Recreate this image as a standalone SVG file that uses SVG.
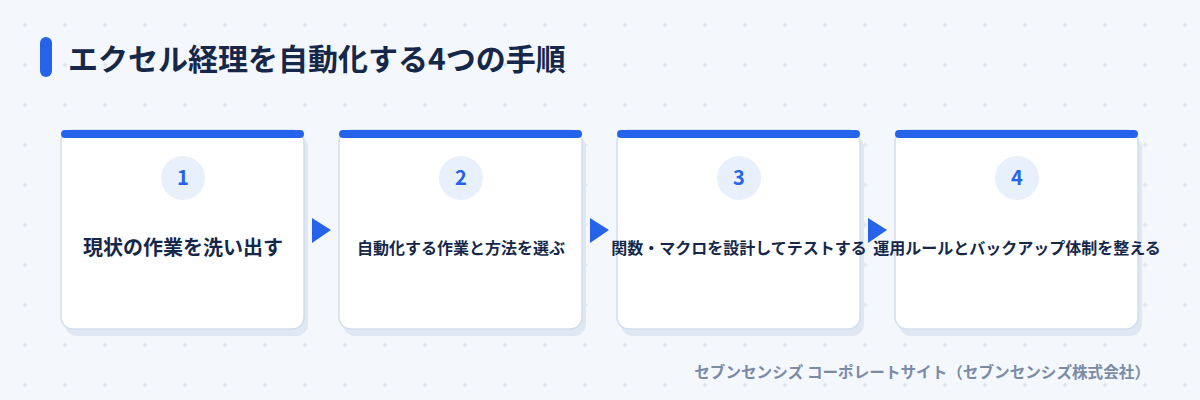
<svg xmlns="http://www.w3.org/2000/svg" width="1200" height="400" viewBox="0 0 1200 400">
<defs>
<pattern id="grid" x="0" y="0" width="40" height="40" patternUnits="userSpaceOnUse">
<path d="M22.5 25 H27.5 M25 22.5 V27.5" stroke="#d6dfeb" stroke-width="1"/>
</pattern>
<style>
.t{font-family:"Noto Sans CJK JP","Noto Sans",sans-serif;font-weight:700;}
.card{fill:#ffffff;stroke:#d3deec;stroke-width:1.5;}
.shadow{fill:#dfe7f3;}
.bar{fill:#2563eb;}
.circ{fill:#e8f0fc;}
.num{fill:#2563eb;font-size:20px;text-anchor:middle;}
.lbl{fill:#15284a;text-anchor:middle;}
.arrow{fill:#2563eb;}
</style>
</defs>
<rect width="1200" height="400" fill="#f4f7fc"/>
<rect width="1200" height="400" fill="url(#grid)"/>
<rect x="40" y="37" width="12" height="40" rx="6" fill="#2563eb"/>
<text class="t" x="68" y="70" font-size="30" fill="#15284a">エクセル経理を自動化する4つの手順</text>

<g id="node1">
<rect class="shadow" x="65" y="136" width="243" height="200" rx="12"/>
<rect class="card" x="61" y="130" width="243" height="199" rx="12"/>
<rect class="bar" x="61" y="130" width="243" height="8" rx="4"/>
<circle class="circ" cx="183" cy="178" r="22"/>
<text class="t num" x="183" y="185">1</text>
<text class="t lbl" x="183" y="255" font-size="20">現状の作業を洗い出す</text>
</g>
<g id="node2">
<rect class="shadow" x="343" y="136" width="243" height="200" rx="12"/>
<rect class="card" x="339" y="130" width="243" height="199" rx="12"/>
<rect class="bar" x="339" y="130" width="243" height="8" rx="4"/>
<circle class="circ" cx="461" cy="178" r="22"/>
<text class="t num" x="461" y="185">2</text>
<text class="t lbl" x="461" y="254" font-size="16">自動化する作業と方法を選ぶ</text>
</g>
<g id="node3">
<rect class="shadow" x="621" y="136" width="243" height="200" rx="12"/>
<rect class="card" x="617" y="130" width="243" height="199" rx="12"/>
<rect class="bar" x="617" y="130" width="243" height="8" rx="4"/>
<circle class="circ" cx="739" cy="178" r="22"/>
<text class="t num" x="739" y="185">3</text>
<text class="t lbl" x="739" y="254" font-size="16">関数・マクロを設計してテストする</text>
</g>
<g id="node4">
<rect class="shadow" x="899" y="136" width="243" height="200" rx="12"/>
<rect class="card" x="895" y="130" width="243" height="199" rx="12"/>
<rect class="bar" x="895" y="130" width="243" height="8" rx="4"/>
<circle class="circ" cx="1017" cy="178" r="22"/>
<text class="t num" x="1017" y="185">4</text>
<text class="t lbl" x="1017" y="254" font-size="16">運用ルールとバックアップ体制を整える</text>
</g>

<g id="connectors">
<polygon class="arrow" points="312,218 331,230 312,243"/>
<polygon class="arrow" points="590,218 609,230 590,243"/>
<polygon class="arrow" points="868,218 887,230 868,243"/>
</g>

<text class="t" x="1150" y="378" font-size="15.6" fill="#7b8ba6" text-anchor="end">セブンセンシズ コーポレートサイト（セブンセンシズ株式会社）</text>
</svg>
